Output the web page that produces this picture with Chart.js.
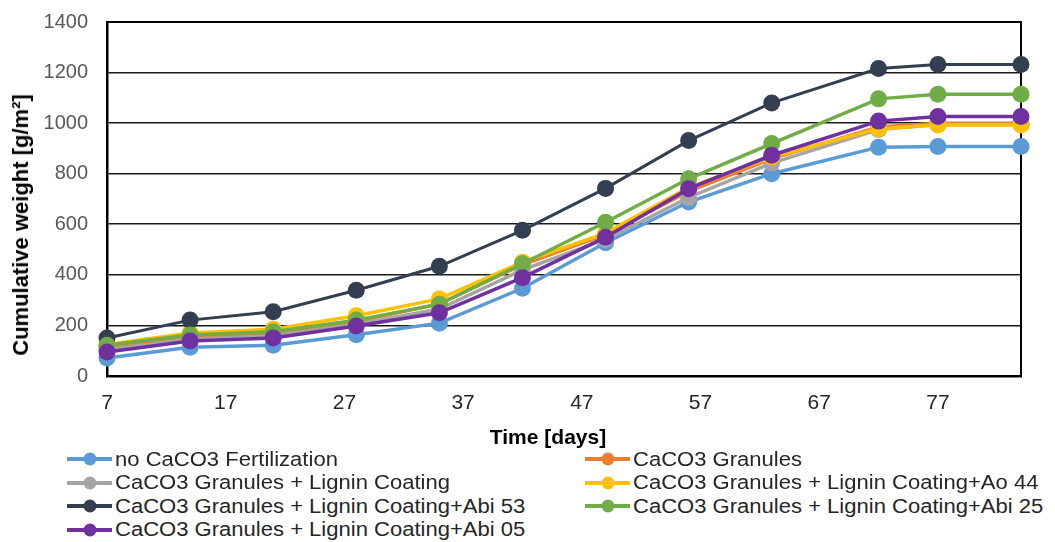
<!DOCTYPE html>
<html><head><meta charset="utf-8">
<script src="https://cdn.jsdelivr.net/npm/chart.js@4.4.0/dist/chart.umd.min.js"></script>
<style>
html,body{margin:0;padding:0;background:#fff;}
#wrap{position:relative;width:1055px;height:542px;font-family:"Liberation Sans",Arial,sans-serif;overflow:hidden;}
#cw{position:absolute;left:0;top:-9px;width:1055px;height:459px;}
#ytitle{position:absolute;left:21px;top:225px;transform:translate(-50%,-50%) rotate(-90deg);white-space:nowrap;font-weight:bold;font-size:22px;color:#000;}
#xtitle{position:absolute;left:548px;top:437px;transform:translate(-50%,-50%);font-weight:bold;font-size:21px;white-space:nowrap;color:#000;}
.lg{position:absolute;height:22px;display:flex;align-items:center;}
.lg .ln{position:relative;width:45px;height:4px;flex:none;}
.lg .dot{position:absolute;left:50%;top:50%;width:13px;height:13px;border-radius:50%;transform:translate(-50%,-50%);}
.lg .tx{font-size:19.5px;color:#262626;margin-left:3px;transform:scaleX(1.13);transform-origin:left center;white-space:nowrap;}
</style></head>
<body>
<div id="wrap">
  <div id="cw"><canvas id="c"></canvas></div>
  <div id="ytitle">Cumulative weight [g/m²]</div>
  <div id="xtitle">Time [days]</div>
  <div id="legend"></div>
</div>
<script>
const days = [7, 14, 21, 28, 35, 42, 49, 56, 63, 72, 77, 84];
const xTickLabels = [7, 17, 27, 37, 47, 57, 67, 77];
const yTicksMax = 1400;

const seriesNames = [
  "no CaCO3 Fertilization",
  "CaCO3 Granules",
  "CaCO3 Granules + Lignin Coating",
  "CaCO3 Granules + Lignin Coating+Ao 44",
  "CaCO3 Granules + Lignin Coating+Abi 53",
  "CaCO3 Granules + Lignin Coating+Abi 25",
  "CaCO3 Granules + Lignin Coating+Abi 05"
];
const seriesColors = ["#5B9BD5", "#ED7D31", "#A5A5A5", "#FFC000", "#333F50", "#70AD47", "#7030A0"];

const noCaCO3      = [71, 114, 122, 163, 209, 347, 527, 688, 800, 905, 908, 908];
const granules     = [115, 155, 170, 215, 285, 440, 560, 730, 860, 985, 1000, 1000];
const lignin       = [105, 145, 158, 205, 265, 420, 540, 706, 842, 975, 995, 995];
const ao44         = [125, 170, 185, 238, 305, 450, 565, 745, 866, 978, 993, 993];
const abi53        = [150, 221, 254, 339, 434, 576, 742, 931, 1080, 1216, 1232, 1232];
const abi25        = [122, 162, 175, 221, 284, 444, 608, 780, 919, 1096, 1114, 1114];
const abi05        = [95, 138, 150, 198, 250, 389, 549, 741, 873, 1008, 1026, 1026];

const allSeries = [noCaCO3, granules, lignin, ao44, abi53, abi25, abi05];

const datasets = allSeries.map((vals, i) => ({
  label: seriesNames[i],
  data: days.map((d, k) => ({x: d, y: vals[k]})),
  borderColor: seriesColors[i],
  backgroundColor: seriesColors[i],
  pointBackgroundColor: seriesColors[i],
  pointBorderColor: seriesColors[i],
  borderWidth: i === 4 ? 3 : 3.5,
  pointRadius: 8.5,
  pointBorderWidth: 0,
  tension: 0,
  clip: false,
  order: allSeries.length - i
}));

const frame = {
  id: 'frame',
  beforeDatasetsDraw(chart) {
    const {ctx, chartArea: a} = chart;
    ctx.save();
    ctx.strokeStyle = '#000';
    ctx.lineWidth = 2;
    ctx.beginPath();
    ctx.moveTo(a.left, a.top);
    ctx.lineTo(a.right, a.top);
    ctx.lineTo(a.right, a.bottom);
    ctx.stroke();
    ctx.restore();
  }
};

const FONT = '"Liberation Sans", Arial, sans-serif';

new Chart(document.getElementById('c'), {
  type: 'line',
  data: { datasets },
  plugins: [frame],
  options: {
    responsive: true,
    maintainAspectRatio: false,
    animation: false,
    layout: { autoPadding: false, padding: { left: 0, right: 34, top: 10, bottom: 0 } },
    plugins: { legend: { display: false }, tooltip: { enabled: false } },
    scales: {
      x: {
        type: 'linear',
        min: 7,
        max: 84,
        afterBuildTicks: (s) => { s.ticks = xTickLabels.map(v => ({value: v})); },
        afterFit: (s) => { s.height = 74; },
        grid: { display: false, drawTicks: false },
        border: { display: true, color: '#000', width: 2.5 },
        ticks: { color: '#262626', font: { family: FONT, size: 21 }, padding: 15, maxRotation: 0, autoSkip: false }
      },
      y: {
        min: 0,
        max: yTicksMax,
        afterFit: (s) => { s.width = 107; },
        grid: { color: '#1a1a1a', lineWidth: 1.6, drawTicks: false },
        border: { display: true, color: '#000', width: 2.5 },
        ticks: { stepSize: 200, color: '#595959', font: { family: FONT, size: 20 }, padding: 19,
                 callback: (v) => String(v) }
      }
    }
  }
});

const legend = document.getElementById('legend');
seriesNames.forEach((name, i) => {
  const col = i % 2, row = Math.floor(i / 2);
  const el = document.createElement('div');
  el.className = 'lg';
  el.style.left = (col === 0 ? 67 : 585) + 'px';
  el.style.top = (459 + row * 23.6 - 11) + 'px';
  el.innerHTML = '<div class="ln" style="background:' + seriesColors[i] + '"><div class="dot" style="background:' + seriesColors[i] + '"></div></div><span class="tx"></span>';
  el.querySelector('.tx').textContent = name;
  legend.appendChild(el);
});
</script>
</body></html>
